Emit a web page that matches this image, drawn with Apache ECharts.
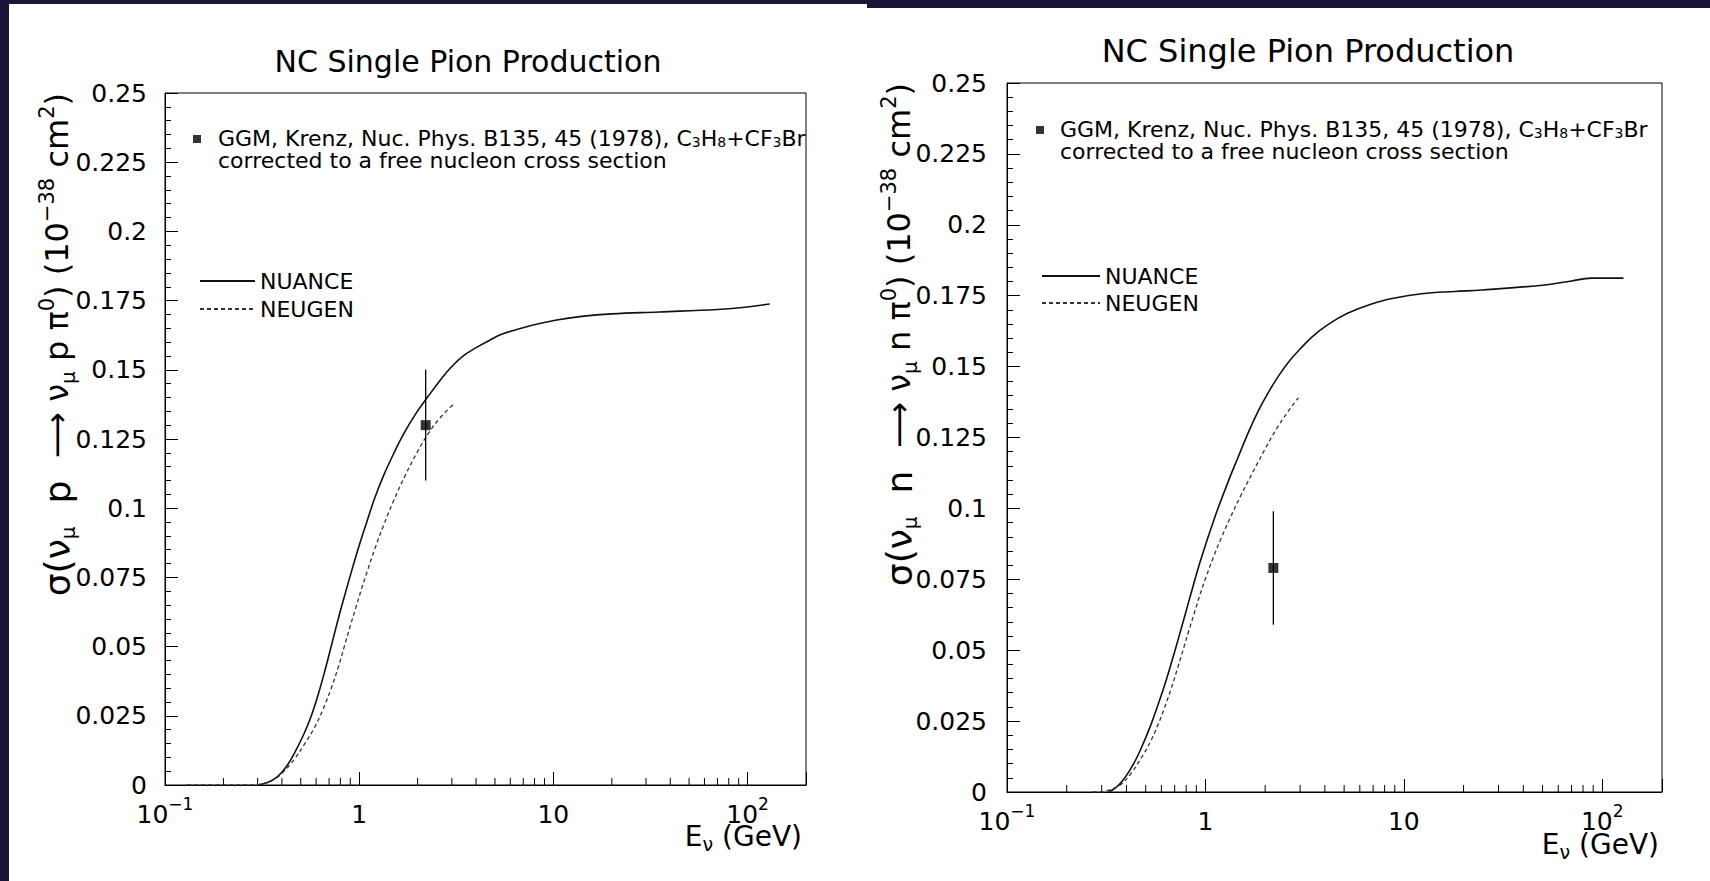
<!DOCTYPE html>
<html>
<head>
<meta charset="utf-8">
<title>NC Single Pion Production</title>
<script src="https://cdn.jsdelivr.net/npm/echarts@6/dist/echarts.min.js"></script>
<style>
html,body{margin:0;padding:0;background:#ffffff;overflow:hidden;}
#chart{width:1710px;height:881px;}
</style>
</head>
<body>
<div id="chart"></div>
<script>
// ---------------- data ----------------
const chartTitle = 'NC Single Pion Production';
const energyDecades = [0.1, 1, 10, 100];
const energyDecadeLabels = ['{b|10}{s|−1}', '{b|1}', '{b|10}', '{b|10}{s|2}'];
const energyMinorTicks = [0.2, 0.3, 0.4, 0.5, 0.6, 0.7, 0.8, 0.9, 2, 3, 4, 5, 6, 7, 8, 9, 20, 30, 40, 50, 60, 70, 80, 90];
const energyMin = 0.1, energyMax = 200;
const sigmaMin = 0, sigmaMax = 0.25, sigmaStep = 0.025;

// nu_mu p -> nu_mu p pi0  : [E (GeV), sigma (1e-38 cm^2)]
const nuanceProton = [[0.30,0],[0.34,0.001],[0.38,0.003],[0.42,0.0065],[0.46,0.011],[0.52,0.0185],[0.57,0.0255],[0.62,0.0335],[0.67,0.042],[0.72,0.0505],[0.78,0.060],[0.85,0.0695],[0.92,0.078],[1.0,0.0865],[1.1,0.0955],[1.2,0.1035],[1.33,0.1115],[1.5,0.1195],[1.7,0.127],[1.95,0.134],[2.27,0.1405],[2.7,0.1475],[3.0,0.1512],[3.4,0.1548],[4.0,0.158],[4.7,0.1607],[5.5,0.163],[7.5,0.1658],[10.4,0.168],[14,0.1693],[20,0.1702],[35,0.1709],[70,0.1718],[100,0.1727],[130,0.1738]];
const neugenProton = [[0.13,0],[0.2,0],[0.29,0],[0.32,0.0005],[0.356,0.0016],[0.40,0.0042],[0.462,0.0092],[0.52,0.0145],[0.586,0.0205],[0.65,0.0272],[0.714,0.0345],[0.78,0.0425],[0.838,0.050],[0.9,0.0575],[0.96,0.064],[1.03,0.071],[1.1,0.0772],[1.2,0.085],[1.33,0.0935],[1.5,0.1025],[1.73,0.112],[2.0,0.1205],[2.27,0.127],[2.6,0.1325],[3.05,0.1375]];
const ggmProton = [[2.2, 0.130]];
const ggmProtonErr = [[2.2, 0.110, 0.150]];

// nu_mu n -> nu_mu n pi0
const nuanceNeutron = [[0.326,0],[0.36,0.002],[0.395,0.0053],[0.435,0.010],[0.475,0.0155],[0.525,0.0228],[0.577,0.0308],[0.63,0.0388],[0.678,0.0462],[0.73,0.054],[0.79,0.0625],[0.85,0.0705],[0.92,0.079],[1.0,0.087],[1.08,0.094],[1.15,0.0995],[1.32,0.1105],[1.47,0.1185],[1.65,0.127],[1.85,0.1345],[2.06,0.1405],[2.35,0.147],[2.65,0.152],[3.0,0.1562],[3.45,0.1605],[4.14,0.1648],[5.2,0.1688],[6.93,0.1722],[9,0.1742],[12.3,0.1757],[18,0.1765],[24.7,0.177],[51.4,0.1788],[70,0.1802],[88,0.1812],[128,0.1812]];
const neugenNeutron = [[0.27,0],[0.30,0],[0.32,0.0005],[0.348,0.0014],[0.38,0.003],[0.419,0.0063],[0.47,0.0115],[0.526,0.0175],[0.575,0.0235],[0.618,0.0292],[0.67,0.0362],[0.725,0.0438],[0.78,0.0512],[0.822,0.0565],[0.88,0.0632],[0.933,0.069],[1.0,0.0752],[1.1,0.083],[1.2,0.0895],[1.32,0.096],[1.5,0.1042],[1.71,0.112],[2.0,0.121],[2.28,0.128],[2.6,0.134],[2.94,0.139]];
const ggmNeutron = [[2.2, 0.079]];
const ggmNeutronErr = [[2.2, 0.059, 0.099]];

const ggmName = 'GGM, Krenz, Nuc. Phys. B135, 45 (1978), C3H8+CF3Br';
const ggmLegendText = '{t|GGM, Krenz, Nuc. Phys. B135, 45 (1978), C}{s|3}{t|H}{s|8}{t|+CF}{s|3}{t|Br}\n{t|corrected to a free nucleon cross section}';
const yTitleProton = '{L|σ(ν}{sub|μ}{L|  p  }{m|⟶ ν}{sub|μ}{m| p π}{sup|0}{m|) (10}{sup|−38}{m| cm}{sup|2}{m|)}';
const yTitleNeutron = '{L|σ(ν}{sub|μ}{L|  n  }{m|⟶ ν}{sub|μ}{m| n π}{sup|0}{m|) (10}{sup|−38}{m| cm}{sup|2}{m|)}';
const xTitle = '{e|E}{sub|ν}{e| (GeV)}';

// ---------------- style ----------------
const FONT = 'DejaVu Sans';
const INK = '#000000';
const BG_DARK = '#191739';

function decadeLabel(v) {
  const lg = Math.log10(v);
  for (let i = 0; i < energyDecades.length; i++) {
    if (Math.abs(Math.log10(energyDecades[i]) - lg) < 1e-6) return energyDecadeLabels[i];
  }
  return '';
}

function makeXAxis(gridIndex) {
  return {
    type: 'log', logBase: 10, gridIndex: gridIndex,
    min: energyMin, max: energyMax,
    axisLine: {show: true, lineStyle: {color: INK, width: 1}},
    axisTick: {show: true, inside: true, length: 13, lineStyle: {color: INK, width: 1}},
    minorTick: {show: false},
    splitLine: {show: false},
    axisLabel: {
      margin: 10, color: INK, formatter: decadeLabel,
      showMinLabel: true, showMaxLabel: true,
      rich: {
        b: {fontSize: 25, fontFamily: FONT, color: INK, lineHeight: 38},
        s: {fontSize: 17, fontFamily: FONT, color: INK, lineHeight: 10, verticalAlign: 'top'}
      }
    }
  };
}

function makeYAxis(gridIndex, margin) {
  return {
    type: 'value', gridIndex: gridIndex,
    min: sigmaMin, max: sigmaMax, interval: sigmaStep,
    axisLine: {show: true, lineStyle: {color: INK, width: 1}},
    axisTick: {show: true, inside: true, length: 13, lineStyle: {color: INK, width: 1}},
    minorTick: {show: true, splitNumber: 5, length: 6, lineStyle: {color: INK, width: 1}},
    splitLine: {show: false},
    axisLabel: {margin: margin, color: INK, fontSize: 25, fontFamily: FONT, padding: [0, 0, 8, 0]}
  };
}

function minorTickRender(params, api) {
  const p = api.coord([api.value(0), api.value(1)]);
  return {type: 'line', shape: {x1: p[0], y1: p[1], x2: p[0], y2: p[1] - 7}, style: {stroke: INK, lineWidth: 1}};
}
function errorBarRender(params, api) {
  const x = api.value(0);
  const a = api.coord([x, api.value(1)]);
  const b = api.coord([x, api.value(2)]);
  return {type: 'line', shape: {x1: a[0], y1: a[1], x2: b[0], y2: b[1]}, style: {stroke: INK, lineWidth: 1.3}};
}

function panelSeries(idx, nuance, neugen, ggm, ggmErr) {
  return [
    {name: 'NUANCE', type: 'line', xAxisIndex: idx, yAxisIndex: idx, data: nuance,
     showSymbol: false, symbol: 'none', smooth: 0.4,
     lineStyle: {color: '#111111', width: 1.6, type: 'solid'}, itemStyle: {color: '#111111'}, z: 3, silent: true},
    {name: 'NEUGEN', type: 'line', xAxisIndex: idx, yAxisIndex: idx, data: neugen,
     showSymbol: false, symbol: 'none', smooth: 0.4,
     lineStyle: {color: '#333333', width: 1.3, type: [4, 3]}, itemStyle: {color: '#333333'}, z: 3, silent: true},
    {name: ggmName, type: 'scatter', xAxisIndex: idx, yAxisIndex: idx, data: ggm,
     symbol: 'rect', symbolSize: 10, itemStyle: {color: INK}, z: 5, silent: true},
    {name: 'ggm-error', type: 'custom', xAxisIndex: idx, yAxisIndex: idx, data: ggmErr,
     renderItem: errorBarRender, encode: {x: 0, y: [1, 2]}, z: 4, silent: true},
    {name: 'x-minor-ticks', type: 'custom', xAxisIndex: idx, yAxisIndex: idx,
     data: energyMinorTicks.map(e => [e, sigmaMin]), renderItem: minorTickRender,
     encode: {x: 0, y: 1}, z: 2, silent: true}
  ];
}

const ggmLegendRich = {
  t: {fontSize: 22, fontFamily: FONT, color: INK, lineHeight: 22},
  s: {fontSize: 14, fontFamily: FONT, color: INK, lineHeight: 14, verticalAlign: 'bottom'}
};

const yTitleRich = {
  m: {fontSize: 32, lineHeight: 42, fontFamily: FONT, fill: INK},
  L: {fontSize: 36, lineHeight: 42, fontFamily: FONT, fill: INK},
  sup: {fontSize: 21, lineHeight: 4, verticalAlign: 'top', fontFamily: FONT, fill: INK},
  sub: {fontSize: 20, lineHeight: 16, verticalAlign: 'bottom', fontFamily: FONT, fill: INK}
};
const xTitleRich = {
  e: {fontSize: 28, lineHeight: 34, fontFamily: FONT, fill: INK},
  sub: {fontSize: 19, lineHeight: 10, verticalAlign: 'bottom', fontFamily: FONT, fill: INK}
};

const chart = echarts.init(document.getElementById('chart'), null, {renderer: 'svg'});
const option = {
  backgroundColor: '#ffffff',
  animation: false,
  textStyle: {fontFamily: FONT},
  title: [
    {text: chartTitle, left: 468, top: 61, textAlign: 'center', textVerticalAlign: 'middle', padding: 0,
     textStyle: {fontFamily: FONT, fontSize: 30, fontWeight: 'normal', color: INK}},
    {text: chartTitle, left: 1308, top: 51, textAlign: 'center', textVerticalAlign: 'middle', padding: 0,
     textStyle: {fontFamily: FONT, fontSize: 32, fontWeight: 'normal', color: INK}}
  ],
  grid: [
    {left: 165, top: 93, width: 641, height: 692, show: true, borderColor: INK, borderWidth: 1, backgroundColor: 'transparent', containLabel: false, outerBoundsMode: 'none'},
    {left: 1007, top: 83, width: 655, height: 709, show: true, borderColor: INK, borderWidth: 1, backgroundColor: 'transparent', containLabel: false, outerBoundsMode: 'none'}
  ],
  xAxis: [makeXAxis(0), makeXAxis(1)],
  yAxis: [makeYAxis(0, 18), makeYAxis(1, 20)],
  legend: [
    {data: [ggmName], left: 193, top: 127, orient: 'vertical', padding: 0, selectedMode: false,
     icon: 'rect', itemWidth: 8, itemHeight: 8, formatter: () => ggmLegendText,
     textStyle: {padding: [20, 0, 0, 12], rich: ggmLegendRich}},
    {data: ['NUANCE', 'NEUGEN'], left: 199, top: 270, orient: 'vertical', padding: 0, selectedMode: false,
     itemWidth: 55, itemHeight: 14, itemGap: 6, itemStyle: {opacity: 0},
     textStyle: {fontSize: 22, lineHeight: 22, fontFamily: FONT, color: INK}},
    {data: [ggmName], left: 1036, top: 118, orient: 'vertical', padding: 0, selectedMode: false,
     icon: 'rect', itemWidth: 8, itemHeight: 8, formatter: () => ggmLegendText,
     textStyle: {padding: [20, 0, 0, 11], rich: ggmLegendRich}},
    {data: ['NUANCE', 'NEUGEN'], left: 1041, top: 265, orient: 'vertical', padding: 0, selectedMode: false,
     itemWidth: 58, itemHeight: 14, itemGap: 5, itemStyle: {opacity: 0},
     textStyle: {fontSize: 22, lineHeight: 22, fontFamily: FONT, color: INK}}
  ],
  graphic: {elements: [
    {type: 'rect', silent: true, shape: {x: 0, y: 0, width: 9, height: 881}, style: {fill: BG_DARK}},
    {type: 'rect', silent: true, shape: {x: 9, y: 0, width: 858, height: 4}, style: {fill: BG_DARK}},
    {type: 'rect', silent: true, shape: {x: 867, y: 0, width: 843, height: 8}, style: {fill: BG_DARK}},
    {type: 'text', silent: true, x: 57, y: 93, rotation: Math.PI / 2,
     style: {text: yTitleProton, rich: yTitleRich, align: 'right', verticalAlign: 'middle', fill: INK, fontFamily: FONT, fontSize: 32}},
    {type: 'text', silent: true, x: 899, y: 83, rotation: Math.PI / 2,
     style: {text: yTitleNeutron, rich: yTitleRich, align: 'right', verticalAlign: 'middle', fill: INK, fontFamily: FONT, fontSize: 32}},
    {type: 'text', silent: true, x: 802, y: 836,
     style: {text: xTitle, rich: xTitleRich, align: 'right', verticalAlign: 'middle', fill: INK, fontFamily: FONT, fontSize: 28}},
    {type: 'text', silent: true, x: 1659, y: 844,
     style: {text: xTitle, rich: xTitleRich, align: 'right', verticalAlign: 'middle', fill: INK, fontFamily: FONT, fontSize: 28}}
  ]},
  series: [].concat(
    panelSeries(0, nuanceProton, neugenProton, ggmProton, ggmProtonErr),
    panelSeries(1, nuanceNeutron, neugenNeutron, ggmNeutron, ggmNeutronErr)
  )
};
chart.setOption(option);
</script>
</body>
</html>
